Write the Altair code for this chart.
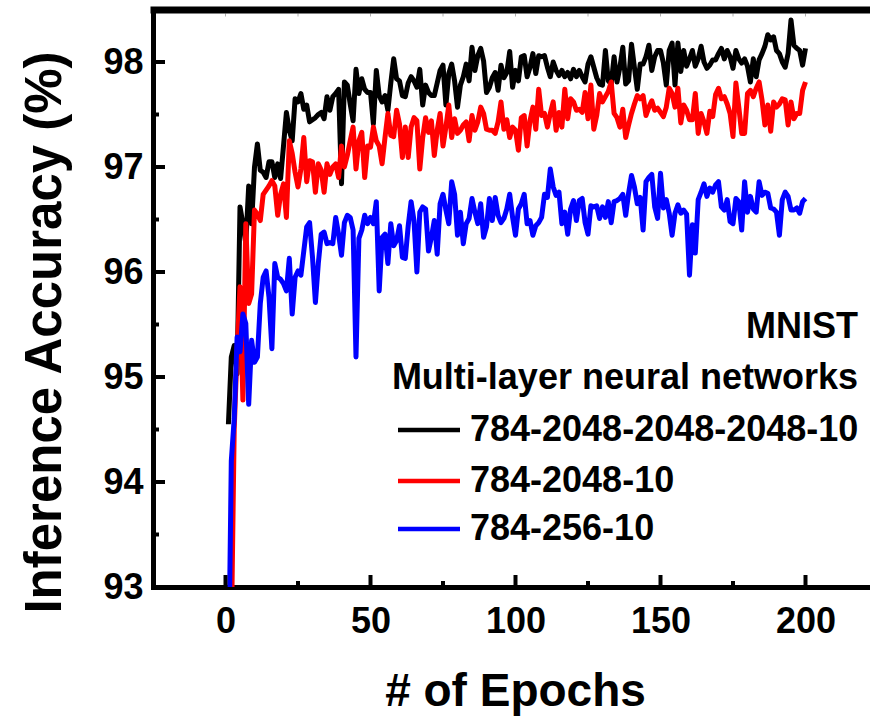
import altair as alt
import pandas as pd

FONT = "Liberation Sans"

# Test accuracy (%) per training epoch for three MNIST networks
epochs = list(range(1, 201))

acc_deep = [  # 784-2048-2048-2048-10
    94.55, 95.19, 95.30, 95.03, 96.62, 96.46, 96.27, 96.82, 96.46, 97.00,
    97.22, 96.97, 96.95, 96.90, 97.05, 97.05, 96.90, 97.03, 96.89, 97.20,
    97.52, 97.35, 97.25, 97.65, 97.62, 97.70, 97.55, 97.59, 97.43, 97.45,
    97.47, 97.50, 97.52, 97.46, 97.67, 97.54, 97.67, 97.70, 97.74, 96.84,
    97.81, 97.78, 97.60, 97.44, 97.93, 97.70, 97.84, 97.74, 97.71, 97.71,
    97.41, 97.92, 97.68, 97.62, 97.68, 97.54, 97.80, 98.03, 97.84, 97.82,
    97.68, 97.67, 97.80, 97.86, 97.82, 97.76, 97.93, 97.59, 97.78, 97.71,
    97.68, 97.68, 97.80, 97.92, 97.97, 97.59, 97.89, 97.98, 97.82, 97.57,
    97.78, 97.86, 97.98, 97.82, 98.14, 97.92, 98.06, 98.13, 98.01, 97.71,
    97.76, 97.85, 97.90, 97.73, 97.97, 97.85, 97.90, 98.10, 97.76, 97.92,
    97.82, 98.05, 98.06, 97.86, 97.95, 98.08, 97.89, 98.06, 98.05, 98.06,
    97.95, 97.86, 98.00, 97.92, 97.87, 97.92, 97.86, 97.90, 97.84, 97.93,
    97.86, 97.92, 97.86, 97.81, 97.98, 98.05, 97.95, 97.85, 97.79, 97.78,
    98.11, 97.82, 97.79, 98.05, 97.81, 97.95, 98.14, 97.79, 97.82, 98.17,
    97.95, 97.74, 97.98, 97.98, 98.05, 98.16, 97.92, 98.05, 98.11, 98.11,
    97.99, 97.78, 98.11, 98.18, 97.78, 98.18, 97.91, 98.11, 97.96, 98.03,
    98.11, 97.96, 98.03, 98.15, 98.00, 97.94, 97.97, 98.02, 98.02, 98.08,
    98.13, 98.03, 98.11, 98.05, 97.94, 98.11, 98.03, 97.99, 98.03, 97.96,
    97.81, 98.03, 97.86, 98.02, 98.08, 98.15, 98.26, 98.21, 98.24, 98.11,
    98.08, 98.00, 97.95, 98.08, 98.40, 98.16, 98.13, 98.11, 97.97, 98.13,
]

acc_wide = [  # 784-2048-10
    90.50, 92.50, 94.50, 95.25, 95.86, 94.78, 96.46, 95.70, 95.79, 96.59,
    96.55, 96.49, 96.74, 96.78, 96.82, 96.87, 96.82, 96.54, 96.74, 96.84,
    96.52, 97.25, 97.13, 96.95, 96.81, 96.98, 97.28, 96.86, 97.06, 97.05,
    96.76, 97.03, 96.97, 96.76, 97.03, 96.93, 97.00, 97.03, 96.90, 97.20,
    97.00, 97.11, 97.25, 97.38, 96.98, 97.25, 97.33, 96.90, 97.20, 97.19,
    97.38, 97.25, 97.20, 97.03, 97.28, 97.51, 97.30, 97.29, 97.54, 97.41,
    97.09, 97.38, 97.09, 97.38, 97.47, 97.44, 96.98, 97.28, 97.47, 97.33,
    97.44, 97.11, 97.35, 97.51, 97.20, 97.38, 97.59, 97.28, 97.46, 97.32,
    97.35, 97.40, 97.43, 97.25, 97.49, 97.35, 97.43, 97.57, 97.51, 97.36,
    97.35, 97.35, 97.32, 97.43, 97.62, 97.36, 97.45, 97.28, 97.38, 97.35,
    97.16, 97.47, 97.49, 97.20, 97.44, 97.57, 97.36, 97.74, 97.49, 97.51,
    97.38, 97.51, 97.62, 97.35, 97.52, 97.38, 97.74, 97.46, 97.65, 97.62,
    97.54, 97.55, 97.52, 97.71, 97.46, 97.78, 97.36, 97.49, 97.70, 97.62,
    97.67, 97.72, 97.81, 97.51, 97.47, 97.38, 97.55, 97.28, 97.40, 97.51,
    97.60, 97.68, 97.65, 97.68, 97.49, 97.57, 97.63, 97.54, 97.56, 97.52,
    97.48, 97.57, 97.75, 97.70, 97.57, 97.75, 97.42, 97.59, 97.54, 97.45,
    97.45, 97.70, 97.32, 97.51, 97.43, 97.32, 97.53, 97.48, 97.69, 97.75,
    97.65, 97.67, 97.60, 97.51, 97.29, 97.80, 97.57, 97.32, 97.32, 97.70,
    97.73, 97.67, 97.75, 97.81, 97.64, 97.40, 97.59, 97.34, 97.62, 97.57,
    97.60, 97.65, 97.64, 97.40, 97.62, 97.46, 97.51, 97.51, 97.73, 97.81,
]

acc_small = [  # 784-256-10
    92.00, 94.20, 94.60, 95.38, 95.24, 95.60, 95.51, 94.74, 95.35, 95.14,
    95.19, 95.70, 95.95, 96.01, 95.76, 95.27, 96.08, 95.95, 95.93, 95.89,
    95.82, 96.13, 95.60, 95.95, 96.01, 95.97, 96.20, 96.43, 96.47, 96.14,
    95.71, 96.08, 96.36, 96.38, 96.27, 96.28, 96.27, 96.52, 96.36, 96.16,
    96.47, 96.54, 96.52, 96.40, 95.19, 96.32, 96.40, 96.54, 96.46, 96.52,
    96.46, 96.67, 95.82, 96.33, 96.36, 96.08, 96.46, 96.25, 96.30, 96.44,
    96.14, 96.13, 96.44, 96.67, 96.49, 96.00, 96.57, 96.62, 96.60, 96.20,
    96.33, 96.49, 96.17, 96.65, 96.74, 96.59, 96.46, 96.86, 96.74, 96.35,
    96.57, 96.27, 96.46, 96.51, 96.70, 96.57, 96.46, 96.65, 96.33, 96.43,
    96.70, 96.49, 96.71, 96.54, 96.47, 96.51, 96.60, 96.74, 96.52, 96.35,
    96.60, 96.65, 96.74, 96.46, 96.49, 96.35, 96.44, 96.47, 96.52, 96.74,
    96.71, 96.98, 96.81, 96.73, 96.76, 96.46, 96.57, 96.36, 96.60, 96.68,
    96.49, 96.68, 96.70, 96.47, 96.36, 96.63, 96.62, 96.63, 96.51, 96.62,
    96.52, 96.67, 96.47, 96.67, 96.68, 96.70, 96.74, 96.54, 96.75, 96.92,
    96.81, 96.65, 96.71, 96.40, 96.86, 96.90, 96.93, 96.62, 96.51, 96.94,
    96.61, 96.69, 96.56, 96.35, 96.56, 96.64, 96.56, 96.59, 96.55, 95.97,
    96.45, 96.18, 96.69, 96.76, 96.84, 96.72, 96.80, 96.76, 96.83, 96.86,
    96.62, 96.59, 96.69, 96.48, 96.46, 96.70, 96.67, 96.40, 96.86, 96.57,
    96.72, 96.60, 96.57, 96.86, 96.73, 96.76, 96.75, 96.61, 96.60, 96.57,
    96.35, 96.69, 96.76, 96.72, 96.59, 96.59, 96.61, 96.56, 96.67, 96.70,
]

series_names = ["784-2048-2048-2048-10", "784-2048-10", "784-256-10"]
series_colors = ["#000000", "#ff0000", "#0000ff"]
series_values = [acc_deep, acc_wide, acc_small]
header_lines = ["MNIST", "Multi-layer neural networks"]

x_major = [0, 50, 100, 150, 200]
x_minor = [25, 75, 125, 175]
x_top = [0, 25, 50, 75, 100, 125, 150, 175, 200]
y_major = [93, 94, 95, 96, 97, 98]
y_minor = [93.5, 94.5, 95.5, 96.5, 97.5]

# plot area size in pixels and the data ranges it spans
W, H = 716, 577
x_dom = [-25, -25 + W / 2.9]
y_dom = [93, 93 + H / 105]

xs = alt.Scale(domain=x_dom, nice=False, zero=False)
ys = alt.Scale(domain=y_dom, nice=False, zero=False)

rows = []
for name, vals in zip(series_names, series_values):
    for e, v in zip(epochs, vals):
        rows.append({"epoch": e, "acc": v, "series": name})
df = pd.DataFrame(rows)

x_axis = alt.Axis(
    values=x_major, ticks=False, grid=False,
    domainColor="black", domainWidth=5, domainCap="square",
    labelFont=FONT, labelFontSize=36, labelFontWeight="bold", labelColor="black",
    labelPadding=17, labelFlush=False,
    title="# of Epochs", titleFont=FONT, titleFontSize=46, titleFontWeight="bold",
    titleColor="black", titleX=362, titleY=104, titleBaseline="middle",
)
y_axis = alt.Axis(
    values=y_major, ticks=False, grid=False,
    domainColor="black", domainWidth=5, domainCap="square",
    labelFont=FONT, labelFontSize=36, labelFontWeight="bold", labelColor="black",
    labelPadding=10, labelFlush=False,
    title="Inference Accuracy (%)", titleFont=FONT, titleFontSize=51,
    titleFontWeight="bold", titleColor="black",
    titleX=-108, titleY=322, titleBaseline="middle", titleAlign="center",
)

base = alt.Chart(df).encode(
    x=alt.X("epoch:Q", scale=xs, axis=x_axis),
    y=alt.Y("acc:Q", scale=ys, axis=y_axis),
)

lines = [
    base.transform_filter(alt.datum.series == name).mark_line(
        color=col, strokeWidth=5, clip=True, strokeJoin="round"
    )
    for name, col in zip(series_names, series_colors)
]


def vticks(vals, length, width, top=False, color="black"):
    d = pd.DataFrame({"epoch": vals})
    y0 = 3.5 if top else H
    y1 = y0 + length if top else H - length
    return alt.Chart(d).mark_rule(color=color, strokeWidth=width).encode(
        x=alt.X("epoch:Q", scale=xs, axis=x_axis),
        y=alt.value(y0), y2=alt.value(y1),
    )


def hticks(vals, length, width):
    d = pd.DataFrame({"acc": vals})
    return alt.Chart(d).mark_rule(color="black", strokeWidth=width).encode(
        y=alt.Y("acc:Q", scale=ys, axis=y_axis),
        x=alt.value(0), x2=alt.value(length),
    )


ticks = [
    vticks(x_major, 12, 4),
    vticks(x_minor, 6, 4),
    vticks(x_top, 3, 1, top=True, color="#b0b0b0"),
    hticks(y_major, 12, 4),
    hticks(y_minor, 6, 4),
]

one = pd.DataFrame({"k": [0]})

# top edge of the frame
top_edge = alt.Chart(one).mark_rule(color="black", strokeWidth=7).encode(
    x=alt.value(-2.5), x2=alt.value(W + 2), y=alt.value(0)
)

# key drawn inside the plot, right-aligned headers then one row per network
key = []
for text, yy in zip(header_lines, [317, 368]):
    key.append(
        alt.Chart(one).mark_text(
            align="right", baseline="middle", font=FONT, fontSize=36,
            fontWeight="bold", color="black",
        ).encode(x=alt.value(705), y=alt.value(yy), text=alt.value(text))
    )
for name, col, yy in zip(series_names, series_colors, [420, 471, 519]):
    key.append(
        alt.Chart(one).mark_rule(color=col, strokeWidth=4.5).encode(
            x=alt.value(245), x2=alt.value(307), y=alt.value(yy)
        )
    )
    key.append(
        alt.Chart(one).mark_text(
            align="left", baseline="middle", font=FONT, fontSize=36,
            fontWeight="bold", color="black",
        ).encode(x=alt.value(317), y=alt.value(yy), text=alt.value(name))
    )

chart = alt.layer(*lines, *ticks, top_edge, *key).properties(
    width=W, height=H,
    padding={"left": 153, "top": 10, "right": 1, "bottom": 130},
    autosize=alt.AutoSizeParams(type="none"),
    background="white",
).configure_view(stroke=None)

chart.save("out.html", embed_options={"renderer": "svg", "actions": False})
